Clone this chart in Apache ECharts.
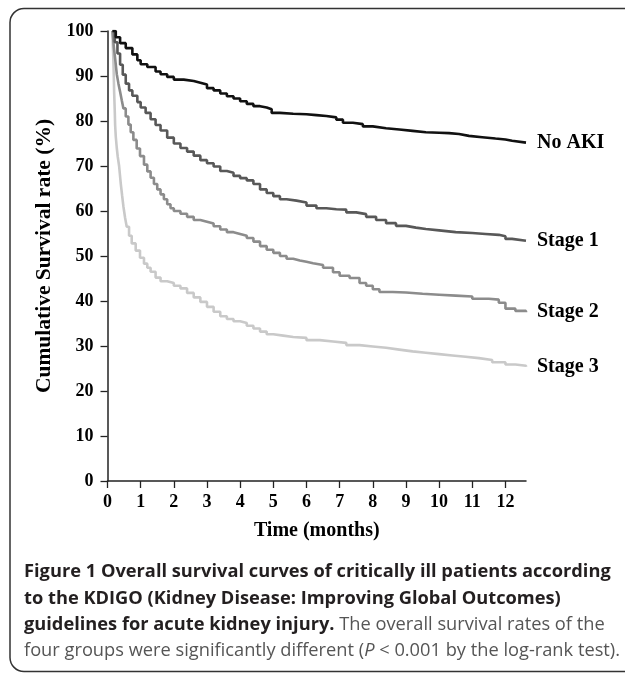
<!DOCTYPE html>
<html><head><meta charset="utf-8">
<script src="https://cdn.jsdelivr.net/npm/echarts@6/dist/echarts.min.js"></script>
<style>html,body{margin:0;padding:0;background:#fff}#c{width:625px;height:674px}</style>
</head><body><div id="c"></div>
<script>
// ---- data ----
const seriesNames = ['No AKI', 'Stage 1', 'Stage 2', 'Stage 3'];
const xTicks = [0,1,2,3,4,5,6,7,8,9,10,11,12];
const xAxisTitle = 'Time (months)';
const yAxisTitle = 'Cumulative Survival rate (%)';

const noAkiT = [0.15,0.25,0.38,0.55,0.75,0.9,1.0,1.2,1.45,1.6,1.8,2.0,2.3,2.6,2.8,3.0,3.2,3.4,3.6,3.8,4.0,4.2,4.4,4.6,4.8,4.95,5.2,5.6,6.0,6.3,6.6,6.9,7.1,7.4,7.7,8.0,8.4,8.8,9.2,9.6,10.0,10.3,10.6,10.9,11.3,11.7,12.0,12.2,12.62];
const noAkiS = [100,98.6,97.3,96.2,94.8,93.5,92.6,92.0,91.0,90.4,89.8,89.2,88.9,88.5,88.1,87.3,86.8,86.1,85.5,85.0,84.4,83.8,83.3,83.0,82.6,81.8,81.6,81.5,81.3,81.1,80.8,80.3,79.6,79.3,78.8,78.4,78.1,77.8,77.5,77.4,77.3,77.1,76.7,76.4,76.1,75.9,75.6,75.2,75.2];

const stage1T = [0.15,0.22,0.3,0.38,0.46,0.55,0.65,0.75,0.9,1.0,1.15,1.3,1.45,1.6,1.8,2.0,2.2,2.4,2.6,2.8,3.0,3.2,3.4,3.6,3.8,4.0,4.2,4.4,4.6,4.8,5.0,5.2,5.4,5.7,6.0,6.3,6.6,6.9,7.2,7.5,7.8,8.1,8.4,8.7,9.0,9.3,9.6,10.0,10.5,11.0,11.4,11.8,12.0,12.2,12.62];
const stage1S = [100,97.5,95.0,92.5,90.3,88.3,86.8,85.6,84.2,83.0,81.8,80.4,79.1,77.9,76.3,75.0,74.0,73.2,72.3,71.3,70.6,69.9,68.9,68.5,67.8,67.3,66.8,66.0,64.8,64.0,63.3,62.6,62.3,61.9,61.2,60.6,60.4,60.3,59.7,59.3,58.7,58.0,57.3,56.7,56.3,56.0,55.7,55.3,55.1,54.9,54.7,54.4,53.8,53.4,53.4];

const stage2T = [0.15,0.19,0.23,0.28,0.33,0.38,0.43,0.48,0.55,0.63,0.7,0.78,0.88,0.98,1.1,1.2,1.3,1.4,1.5,1.6,1.7,1.8,1.9,2.0,2.2,2.4,2.6,2.8,3.0,3.2,3.4,3.6,3.8,4.0,4.2,4.4,4.6,4.8,5.0,5.2,5.4,5.6,5.8,6.0,6.2,6.5,6.8,7.0,7.3,7.6,7.8,8.0,8.2,8.6,9.0,9.5,10.0,10.5,11.0,11.5,11.8,12.0,12.3,12.62];
const stage2S = [100,96.5,93.9,90.4,88.3,86.5,84.6,82.8,81.0,79.2,77.5,75.8,73.9,72.2,70.3,68.8,67.4,66.0,64.8,63.7,62.6,61.5,60.6,60.0,59.4,58.7,58.0,57.6,57.2,56.6,55.9,55.3,54.9,54.5,54.0,53.2,52.2,51.4,50.7,50.0,49.4,49.0,48.7,48.4,48.0,47.4,46.4,45.6,45.1,44.0,43.4,42.6,42.0,41.9,41.6,41.4,41.2,41.0,40.5,40.3,39.6,38.3,37.8,37.5];

const stage3T = [0.15,0.16,0.175,0.19,0.2,0.22,0.23,0.25,0.28,0.31,0.35,0.4,0.44,0.48,0.53,0.58,0.65,0.73,0.85,0.98,1.1,1.2,1.3,1.45,1.6,1.8,2.0,2.2,2.4,2.6,2.8,3.0,3.2,3.4,3.6,3.8,4.0,4.2,4.4,4.6,4.8,5.0,5.3,5.6,6.0,6.4,6.8,7.2,7.6,8.0,8.4,8.8,9.2,9.6,10.0,10.4,10.8,11.2,11.6,12.0,12.3,12.62];
const stage3S = [100,97,94,90,86.5,82,79.1,76.5,74,72,70,66.1,63.5,61,58.5,56.5,54.5,52.8,51.2,49.6,48.3,47.4,46.5,45.2,44.4,44.0,43.4,42.8,41.8,40.8,39.8,38.7,37.6,36.6,36.0,35.5,35.1,34.5,33.9,33.2,32.6,32.3,32.0,31.8,31.3,31.0,30.7,30.2,29.9,29.6,29.2,28.8,28.5,28.2,27.9,27.6,27.3,26.9,26.4,25.9,25.6,25.4];

const captionLines = [
  [{b:'Figure 1 Overall survival curves of critically ill patients according'}],
  [{b:'to the KDIGO (Kidney Disease: Improving Global Outcomes)'}],
  [{b:'guidelines for acute kidney injury.'},{r:' The overall survival rates of the'}],
  [{r:'four groups were significantly different ('},{i:'P'},{r:' < 0.001 by the log-rank test).'}]
];

// ---- styling ----
const seriesColors = ['#111111', '#585858', '#8c8c8c', '#c9c9c9'];
const serif = '"Liberation Serif", "Times New Roman", serif';
const sans = '"Open Sans", "Noto Sans", sans-serif';
const pairs = (t, s) => t.map((v, i) => [v, s[i]]);
const allData = [pairs(noAkiT, noAkiS), pairs(stage1T, stage1S), pairs(stage2T, stage2S), pairs(stage3T, stage3S)];

// size the caption so that its first line spans the same width as in the reference
const cv = document.createElement('canvas').getContext('2d');
cv.font = 'bold 17px ' + sans;
const w1 = cv.measureText(captionLines[0][0].b).width;
const capSize = Math.max(15, Math.min(20, 17 * 587 / w1));

const escapeRich = s => s.replace(/[{}|]/g, '');
const captionGraphics = captionLines.map((parts, i) => {
  const txt = parts.map(p => {
    if (p.b) return '{b|' + escapeRich(p.b) + '}';
    if (p.i) return '{i|' + escapeRich(p.i) + '}';
    return '{r|' + escapeRich(p.r) + '}';
  }).join('');
  return {
    type: 'text', left: 24, top: 563 + i * 26.3,
    style: {
      text: txt, fontFamily: sans, fontSize: capSize,
      rich: {
        b: {fontFamily: sans, fontSize: capSize, fontWeight: 'bold', fill: '#231f20'},
        r: {fontFamily: sans, fontSize: capSize, fontWeight: 'normal', fill: '#555555'},
        i: {fontFamily: sans, fontSize: capSize, fontStyle: 'italic', fill: '#555555'}
      }
    }
  };
});

const chart = echarts.init(document.getElementById('c'), null, {renderer: 'canvas'});
chart.setOption({
  backgroundColor: '#ffffff',
  animation: false,
  grid: {left: 107.5, right: 99, top: 31, bottom: 193, containLabel: false},
  xAxis: {
    type: 'value', min: 0, max: 12.62,
    name: xAxisTitle, nameLocation: 'middle', nameGap: 40,
    nameTextStyle: {fontFamily: serif, fontWeight: 'bold', fontSize: 20, color: '#000'},
    axisLine: {show: true, lineStyle: {color: '#222', width: 1.5}},
    axisTick: {show: true, length: 7, customValues: xTicks, lineStyle: {color: '#222', width: 1.3}},
    axisLabel: {customValues: xTicks, fontFamily: serif, fontWeight: 'bold', fontSize: 18, color: '#000', margin: 12},
    splitLine: {show: false}
  },
  yAxis: {
    type: 'value', min: 0, max: 100, interval: 10,
    name: yAxisTitle, nameLocation: 'middle', nameGap: 52,
    nameTextStyle: {fontFamily: serif, fontWeight: 'bold', fontSize: 21.5, color: '#000'},
    axisLine: {show: true, lineStyle: {color: '#222', width: 1.5}},
    axisTick: {show: true, length: 7, lineStyle: {color: '#222', width: 1.3}},
    axisLabel: {fontFamily: serif, fontWeight: 'bold', fontSize: 18, color: '#000', margin: 14},
    splitLine: {show: false}
  },
  series: seriesNames.map((name, i) => ({
    name: name, type: 'line', step: 'end', showSymbol: false, symbol: 'none',
    data: allData[i],
    lineStyle: {color: seriesColors[i], width: 2.6},
    itemStyle: {color: seriesColors[i]},
    endLabel: {show: true, formatter: name, distance: 11, fontFamily: serif, fontWeight: 'bold', fontSize: 20, color: '#000'},
    z: 10 - i
  })),
  graphic: [
    {type: 'rect', shape: {x: 10, y: 8.5, width: 700, height: 663, r: 14},
     style: {fill: 'none', stroke: '#333', lineWidth: 1.5}, silent: true}
  ].concat(captionGraphics)
});
</script>
</body></html>
